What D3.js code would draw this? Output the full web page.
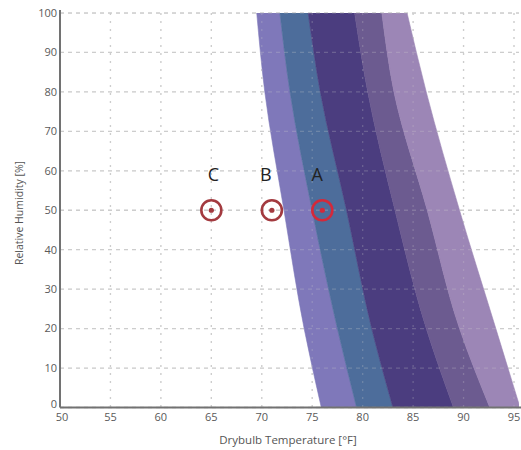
<!DOCTYPE html>
<html>
<head>
<meta charset="utf-8">
<script src="https://cdn.jsdelivr.net/npm/d3@7"></script>
<style>
  html, body { margin: 0; padding: 0; background: #fff; }
  svg { display: block; font-family: "Open Sans", "DejaVu Sans", sans-serif; }
</style>
</head>
<body>
<svg id="chart" width="521" height="450"></svg>
<script>
// Relative humidity levels at which each zone boundary is sampled
const rhLevels = [0, 20, 50, 80, 100];

// Drybulb temperature (°F) of each boundary curve, left to right, at rhLevels
const boundary0 = [75.9, 74.2, 72.2, 70.3, 69.5];
const boundary1 = [79.4, 77.5, 75.0, 72.8, 71.8];
const boundary2 = [83.0, 80.9, 78.4, 75.8, 74.6];
const boundary3 = [89.0, 86.3, 83.2, 80.5, 79.2];
const boundary4 = [92.6, 89.6, 86.4, 83.1, 81.9];
const boundary5 = [95.6, 93.2, 89.6, 86.3, 84.4];
const boundaries = [boundary0, boundary1, boundary2, boundary3, boundary4, boundary5];

// Fill of each band between consecutive boundaries
const bandColors = ["#7f79ba", "#4e6e9b", "#4b3e7f", "#6c5b91", "#9c86b6"];

// Operating points
const pointNames = ["C", "B", "A"];
const pointTemps = [65, 71, 76];
const pointRH = [50, 50, 50];
const pointColors = ["#a33a3f", "#a33a3f", "#d3293a"];
const labelTemps = [65.2, 70.4, 75.5];
const labelRH = 57.5;

// Axis ticks
const xTicks = [50, 55, 60, 65, 70, 75, 80, 85, 90, 95];
const yTicks = [0, 10, 20, 30, 40, 50, 60, 70, 80, 90, 100];

const svg = d3.select("#chart");
const plotLeft = 60, plotRight = 519, plotTop = 13, plotBottom = 407.5;

const x = d3.scaleLinear().domain([50, 95]).range([60, 514]);
const y = d3.scaleLinear().domain([0, 100]).range([plotBottom, plotTop]);

const defs = svg.append("defs");
defs.append("clipPath").attr("id", "plot-clip")
  .append("rect").attr("x", plotLeft).attr("y", plotTop)
  .attr("width", plotRight - plotLeft).attr("height", plotBottom - plotTop);
defs.append("clipPath").attr("id", "label-clip")
  .append("rect").attr("x", 0).attr("y", 9).attr("width", 521).attr("height", 441);

// Grid, drawn under and faintly over the bands
function drawGrid(g, opacity) {
  g.selectAll("line.h").data(yTicks).join("line")
    .attr("class", "h")
    .attr("x1", plotLeft).attr("x2", plotRight)
    .attr("y1", d => y(d)).attr("y2", d => y(d))
    .attr("stroke-dasharray", "4,4");
  g.selectAll("line.v").data(xTicks.slice(1)).join("line")
    .attr("class", "v")
    .attr("x1", d => x(d)).attr("x2", d => x(d))
    .attr("y1", plotTop).attr("y2", plotBottom)
    .attr("stroke-dasharray", "2,6");
  g.attr("stroke", "#cdcdcd").attr("stroke-width", 1.3).attr("opacity", opacity);
}
drawGrid(svg.append("g"), 1);

// Comfort bands
const bandData = bandColors.map((c, i) => rhLevels.map((rh, j) => ({
  rh, t0: boundaries[i][j], t1: boundaries[i + 1][j]
})));

const area = d3.area()
  .y(d => y(d.rh))
  .x0(d => x(d.t0))
  .x1(d => x(d.t1))
  .curve(d3.curveMonotoneY);

svg.append("g").attr("clip-path", "url(#plot-clip)")
  .selectAll("path").data(bandData).join("path")
  .attr("d", area)
  .attr("fill", (d, i) => bandColors[i])
  .attr("stroke", (d, i) => bandColors[i])
  .attr("stroke-width", 0.6);

drawGrid(svg.append("g").attr("clip-path", "url(#plot-clip)"), 0.25);

// Axes
const axisColor = "#727272";
svg.append("line").attr("x1", plotLeft).attr("x2", plotLeft)
  .attr("y1", plotTop - 3).attr("y2", plotBottom)
  .attr("stroke", axisColor).attr("stroke-width", 2);
svg.append("line").attr("x1", plotLeft).attr("x2", 521)
  .attr("y1", plotBottom).attr("y2", plotBottom)
  .attr("stroke", axisColor).attr("stroke-width", 2);

const labelGroup = svg.append("g").attr("clip-path", "url(#label-clip)")
  .attr("font-size", 11).attr("fill", "#5a5a5a");

labelGroup.selectAll("text.y").data(yTicks).join("text")
  .attr("class", "y")
  .attr("x", 57).attr("y", d => d === 0 ? y(d) - 3 : y(d))
  .attr("dy", "0.35em")
  .attr("text-anchor", "end")
  .text(d => d);

labelGroup.selectAll("text.x").data(xTicks).join("text")
  .attr("class", "x")
  .attr("x", d => x(d) + (d === 50 ? 2 : 0)).attr("y", 421)
  .attr("text-anchor", "middle")
  .text(d => d);

svg.append("text")
  .attr("x", 288).attr("y", 444)
  .attr("text-anchor", "middle")
  .attr("font-size", 11.5).attr("fill", "#555")
  .text("Drybulb Temperature [°F]");

svg.append("text")
  .attr("transform", "translate(23,213) rotate(-90)")
  .attr("text-anchor", "middle")
  .attr("font-size", 10.5).attr("fill", "#555")
  .text("Relative Humidity [%]");

// Operating points
const pts = svg.append("g");
pointNames.forEach((name, i) => {
  const cx = x(pointTemps[i]), cy = y(pointRH[i]);
  pts.append("circle").attr("cx", cx).attr("cy", cy).attr("r", 10)
    .attr("fill", "none").attr("stroke", pointColors[i]).attr("stroke-width", 2.6);
  pts.append("circle").attr("cx", cx).attr("cy", cy).attr("r", 2.6)
    .attr("fill", pointColors[i]);
  pts.append("text")
    .attr("x", x(labelTemps[i])).attr("y", y(labelRH))
    .attr("text-anchor", "middle")
    .attr("font-size", 18).attr("fill", "#222")
    .text(name);
});
</script>
</body>
</html>
